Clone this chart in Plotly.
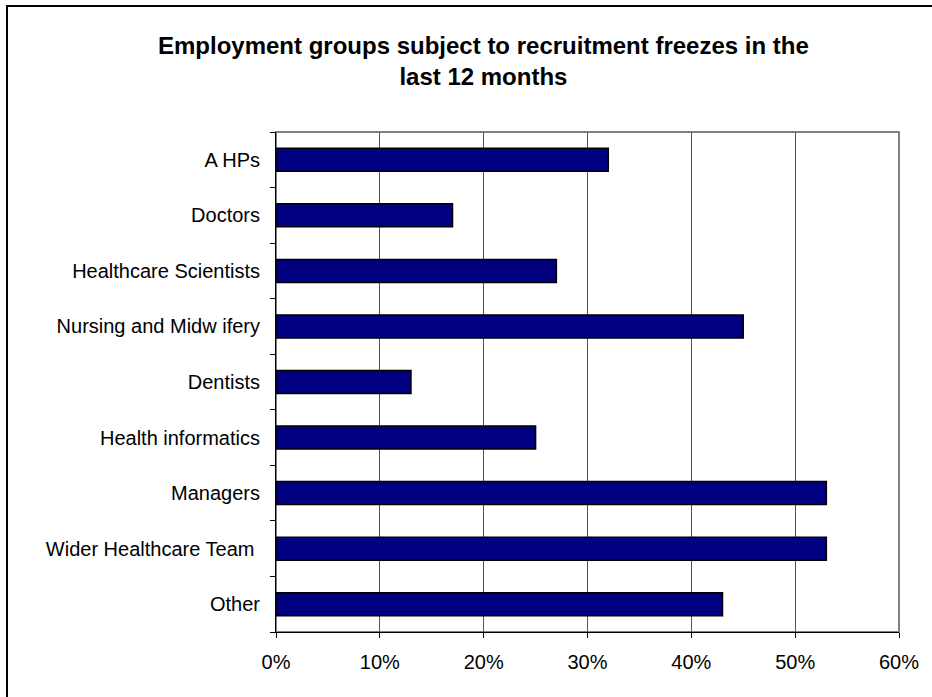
import plotly.graph_objects as go

# Employment groups and share of organisations reporting a freeze (%)
groups = [
    "A HPs",
    "Doctors",
    "Healthcare Scientists",
    "Nursing and Midw ifery",
    "Dentists",
    "Health informatics",
    "Managers",
    "Wider Healthcare Team ",
    "Other",
]
freeze_pct = [32, 17, 27, 45, 13, 25, 53, 53, 43]

x_ticks = [0, 10, 20, 30, 40, 50, 60]
x_tick_text = ["0%", "10%", "20%", "30%", "40%", "50%", "60%"]

title_text = "Employment groups subject to recruitment freezes in the<br>last 12 months"

W, H = 932, 697
ML, MR, MT, MB = 276, 33, 132, 65
PW = W - ML - MR
PH = H - MT - MB

fig = go.Figure(
    go.Bar(
        x=freeze_pct,
        y=groups,
        orientation="h",
        marker=dict(color="#000080", line=dict(color="#000000", width=1.5)),
        hoverinfo="x+y",
    )
)

font_family = "Liberation Sans, Arial, sans-serif"

fig.update_layout(
    width=W,
    height=H,
    margin=dict(l=ML, r=MR, t=MT, b=MB),
    paper_bgcolor="white",
    plot_bgcolor="white",
    showlegend=False,
    bargap=0.586,
    font=dict(family=font_family, size=20, color="#000000"),
    xaxis=dict(
        range=[0, 60],
        tickvals=x_ticks,
        ticktext=x_tick_text,
        showgrid=True,
        gridcolor="#555555",
        gridwidth=1,
        zeroline=False,
        showline=True,
        linecolor="#000000",
        linewidth=1,
        ticks="outside",
        ticklen=5,
        tickcolor="#000000",
        ticklabelstandoff=7,
        tickfont=dict(size=20, color="#000000"),
        fixedrange=True,
    ),
    yaxis=dict(
        categoryorder="array",
        categoryarray=groups[::-1],
        autorange=False,
        range=[-0.5, len(groups) - 0.5],
        showgrid=False,
        zeroline=False,
        showline=True,
        linecolor="#000000",
        linewidth=1,
        ticks="outside",
        tickson="boundaries",
        ticklen=5,
        tickcolor="#000000",
        ticklabelstandoff=11,
        tickfont=dict(size=20, color="#000000"),
        fixedrange=True,
    ),
    shapes=[
        # grey frame around the plotting area
        dict(type="rect", xref="paper", yref="paper", x0=0, y0=0, x1=1, y1=1,
             line=dict(color="#808080", width=2), layer="below"),
        # outer chart border
        dict(type="rect", xref="paper", yref="paper",
             x0=(7 - ML) / PW, y0=-(MB + 30) / PH,
             x1=1 + (MR + 30) / PW, y1=1 + (MT - 6) / PH,
             line=dict(color="#000000", width=2)),
    ],
    annotations=[
        dict(
            text="<b>" + title_text + "</b>",
            xref="paper", yref="paper",
            x=(483 - ML) / PW, y=1 + (MT - 61) / PH,
            xanchor="center", yanchor="middle",
            showarrow=False,
            align="center",
            font=dict(family=font_family, size=24, color="#000000"),
        )
    ],
)

fig.write_html("out.html")
